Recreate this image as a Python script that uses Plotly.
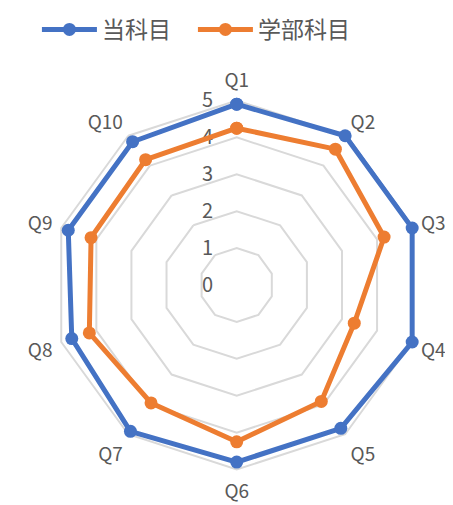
import plotly.graph_objects as go

categories = ["Q1", "Q2", "Q3", "Q4", "Q5", "Q6", "Q7", "Q8", "Q9", "Q10"]
this_course = [4.9, 5.0, 5.0, 5.0, 4.8, 4.8, 4.9, 4.7, 4.8, 4.8]
faculty_course = [4.25, 4.55, 4.2, 3.35, 3.9, 4.25, 3.95, 4.2, 4.15, 4.2]
series_names = ["当科目", "学部科目"]
radial_ticks = [0, 1, 2, 3, 4, 5]

FONT = "Noto Sans CJK JP"
TXT = "#595959"

fig = go.Figure()
for name, vals, col in [(series_names[0], this_course, "#4472C4"),
                        (series_names[1], faculty_course, "#ED7D31")]:
    fig.add_trace(go.Scatterpolar(
        r=vals + vals[:1], theta=categories + categories[:1],
        mode="lines+markers", name=name, cliponaxis=False,
        line=dict(color=col, width=5),
        marker=dict(color=col, size=13),
    ))

# page has an 8px body margin; size the figure to fit the window
W, H = 445, 497
fig.update_layout(
    width=W, height=H,
    margin=dict(l=0, r=0, t=0, b=0, autoexpand=False),
    paper_bgcolor="white",
    font=dict(family=FONT, color=TXT, size=19),
    showlegend=True,
    legend=dict(orientation="h", x=0.065, xanchor="left", y=1.0, yanchor="top",
                font=dict(size=23, color=TXT, family=FONT), entrywidth=86,
                entrywidthmode="pixels", itemwidth=55),
    polar=dict(
        domain=dict(x=[0.0927, 0.9352], y=[0.0655, 0.8198]),
        gridshape="linear",
        bgcolor="white",
        radialaxis=dict(range=[0, 5.08], tickvals=radial_ticks, angle=90,
                        tickangle=90, side="counterclockwise", layer="below traces",
                        showline=False, ticks="outside", ticklen=16,
                        tickcolor="rgba(0,0,0,0)", gridcolor="#D9D9D9",
                        gridwidth=1.5, tickfont=dict(size=20, color=TXT)),
        angularaxis=dict(rotation=90, direction="clockwise", showgrid=False,
                         layer="below traces", showline=False,
                         ticks="outside", ticklen=2, tickcolor="rgba(0,0,0,0)",
                         tickfont=dict(size=19, color=TXT)),
    ),
)

fig.write_html("out.html")
